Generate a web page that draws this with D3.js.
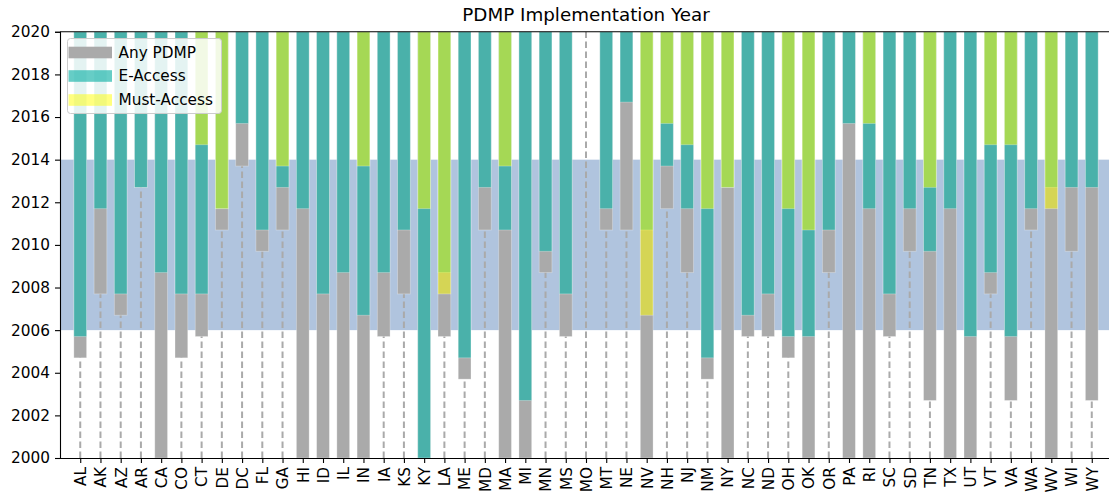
<!DOCTYPE html>
<html>
<head>
<meta charset="utf-8">
<script src="https://cdn.jsdelivr.net/npm/d3@7"></script>
<style>
  html, body { margin: 0; padding: 0; background: #fff; }
  svg { display: block; font-family: "DejaVu Sans", sans-serif; }
</style>
</head>
<body>
<svg id="chart" width="1109" height="498"></svg>
<script>
const states = ["AL","AK","AZ","AR","CA","CO","CT","DE","DC","FL","GA","HI","ID","IL","IN","IA","KS","KY","LA","ME","MD","MA","MI","MN","MS","MO","MT","NE","NV","NH","NJ","NM","NY","NC","ND","OH","OK","OR","PA","RI","SC","SD","TN","TX","UT","VT","VA","WA","WV","WI","WY"];
const anyPdmp = [2004.7,2007.7,2006.7,2012.7,2000,2004.7,2005.7,2010.7,2013.7,2009.7,2010.7,2000,2000,2000,2000,2005.7,2007.7,2000,2005.7,2003.7,2010.7,2000,2000,2008.7,2005.7,null,2010.7,2010.7,2000,2011.7,2008.7,2003.7,2000,2005.7,2005.7,2004.7,2000,2008.7,2000,2000,2005.7,2009.7,2002.7,2000,2000,2007.7,2002.7,2010.7,2000,2009.7,2002.7];
const eAccess = [2005.7,2011.7,2007.7,2012.7,2008.7,2007.7,2007.7,2011.7,2015.7,2010.7,2012.7,2011.7,2007.7,2008.7,2006.7,2008.7,2010.7,2000,2008.7,2004.7,2012.7,2010.7,2002.7,2009.7,2007.7,null,2011.7,2016.7,2010.7,2013.7,2011.7,2004.7,2012.7,2006.7,2007.7,2005.7,2005.7,2010.7,2015.7,2011.7,2007.7,2011.7,2009.7,2011.7,2005.7,2008.7,2005.7,2011.7,2012.7,2012.7,2012.7];
const mustAccess = [null,null,null,null,null,null,2014.7,2011.7,null,null,2013.7,null,null,null,2013.7,null,null,2011.7,2007.7,null,null,2013.7,null,null,null,null,null,null,2006.7,2015.7,2014.7,2011.7,2012.7,null,null,2011.7,2010.7,null,null,2015.7,null,null,2012.7,null,null,2014.7,2014.7,null,2011.7,null,null];
const yTicks = [2000,2002,2004,2006,2008,2010,2012,2014,2016,2018,2020];
const band = [2006, 2014];
const legendLabels = ["Any PDMP", "E-Access", "Must-Access"];
const title = "PDMP Implementation Year";

const layers = [
  { name: "Any PDMP", values: anyPdmp, fill: "#aaaaaa", opacity: 1 },
  { name: "E-Access", values: eAccess, fill: "rgb(27,180,170)", opacity: 0.67 },
  { name: "Must-Access", values: mustAccess, fill: "rgb(255,255,0)", opacity: 0.5 }
];

const svg = d3.select("#chart");
const mLeft = 60, mRight = 1112, mTop = 31.8, mBottom = 458;
const x = d3.scaleLinear().domain([-1, states.length]).range([mLeft, mRight]);
const y = d3.scaleLinear().domain([2000, 2020]).range([mBottom, mTop]);
const step = x(1) - x(0);
const barW = step * 0.63;

svg.append("defs").append("clipPath").attr("id", "plotclip")
  .append("rect").attr("x", mLeft).attr("y", mTop).attr("width", mRight - mLeft).attr("height", mBottom - mTop);

const plot = svg.append("g").attr("clip-path", "url(#plotclip)");

// band
plot.append("rect")
  .attr("x", mLeft).attr("width", mRight - mLeft)
  .attr("y", y(band[1])).attr("height", y(band[0]) - y(band[1]))
  .attr("fill", "#b0c4de");

// dashed guide lines
plot.selectAll("line.guide").data(states).join("line")
  .attr("class", "guide")
  .attr("x1", (d, i) => x(i)).attr("x2", (d, i) => x(i))
  .attr("y1", y(2000)).attr("y2", y(2020))
  .attr("stroke", "#aaaaaa").attr("stroke-width", 2)
  .attr("stroke-dasharray", "6.5,3.5");

// bars: each layer from its year up to 2020
layers.forEach(layer => {
  const data = states.map((s, i) => ({ i, v: layer.values[i] })).filter(d => d.v !== null);
  plot.append("g").selectAll("rect").data(data).join("rect")
    .attr("x", d => x(d.i) - barW / 2)
    .attr("width", barW)
    .attr("y", y(2020))
    .attr("height", d => y(d.v) - y(2020))
    .attr("fill", layer.fill)
    .attr("fill-opacity", layer.opacity)
    .attr("stroke", "rgba(255,255,255,0.35)")
    .attr("stroke-width", 0.8);
});

// axes
const yAxis = d3.axisLeft(y).tickValues(yTicks).tickFormat(d3.format("d")).tickSize(5).tickPadding(5);
const gy = svg.append("g").attr("transform", `translate(${mLeft},0)`).call(yAxis);
gy.select(".domain").attr("stroke", "#000").attr("stroke-width", 1.1);
gy.selectAll(".tick line").attr("stroke", "#000").attr("stroke-width", 1.1);
gy.selectAll(".tick text").attr("font-size", "15.3px").attr("fill", "#000").attr("font-family", "DejaVu Sans");

const xAxis = d3.axisBottom(x).tickValues(d3.range(states.length)).tickFormat(i => states[i]).tickSize(5).tickSizeOuter(0);
const gx = svg.append("g").attr("transform", `translate(0,${mBottom})`).call(xAxis);
gx.select(".domain").attr("stroke", "#000").attr("stroke-width", 1.1);
gx.selectAll(".tick line").attr("stroke", "#000").attr("stroke-width", 1.1);
gx.selectAll(".tick text")
  .attr("font-size", "15.3px").attr("fill", "#000").attr("font-family", "DejaVu Sans")
  .attr("transform", "rotate(-90)")
  .attr("text-anchor", "end")
  .attr("x", -9).attr("y", 0).attr("dy", "0.35em");

// top spine
svg.append("line").attr("x1", mLeft).attr("x2", mRight).attr("y1", mTop).attr("y2", mTop)
  .attr("stroke", "#000").attr("stroke-width", 1.1);

// title
svg.append("text").attr("x", (mLeft + mRight) / 2).attr("y", 21)
  .attr("text-anchor", "middle").attr("font-size", "18.3px").attr("fill", "#000")
  .text(title);

// legend
const lg = svg.append("g");
lg.append("rect").attr("x", 67.5).attr("y", 38.5).attr("width", 154).attr("height", 75)
  .attr("rx", 3).attr("fill", "#fff").attr("fill-opacity", 0.85)
  .attr("stroke", "#cccccc").attr("stroke-width", 1);
const rowY = [52.5, 76, 100];
layers.forEach((layer, k) => {
  lg.append("rect").attr("x", 68.5).attr("y", rowY[k] - 5.8).attr("width", 43.5).attr("height", 11.6)
    .attr("fill", layer.fill).attr("fill-opacity", layer.opacity);
  lg.append("text").attr("x", 118.5).attr("y", rowY[k]).attr("dy", "0.35em")
    .attr("font-size", "15.3px").attr("fill", "#000").text(legendLabels[k]);
});
</script>
</body>
</html>
